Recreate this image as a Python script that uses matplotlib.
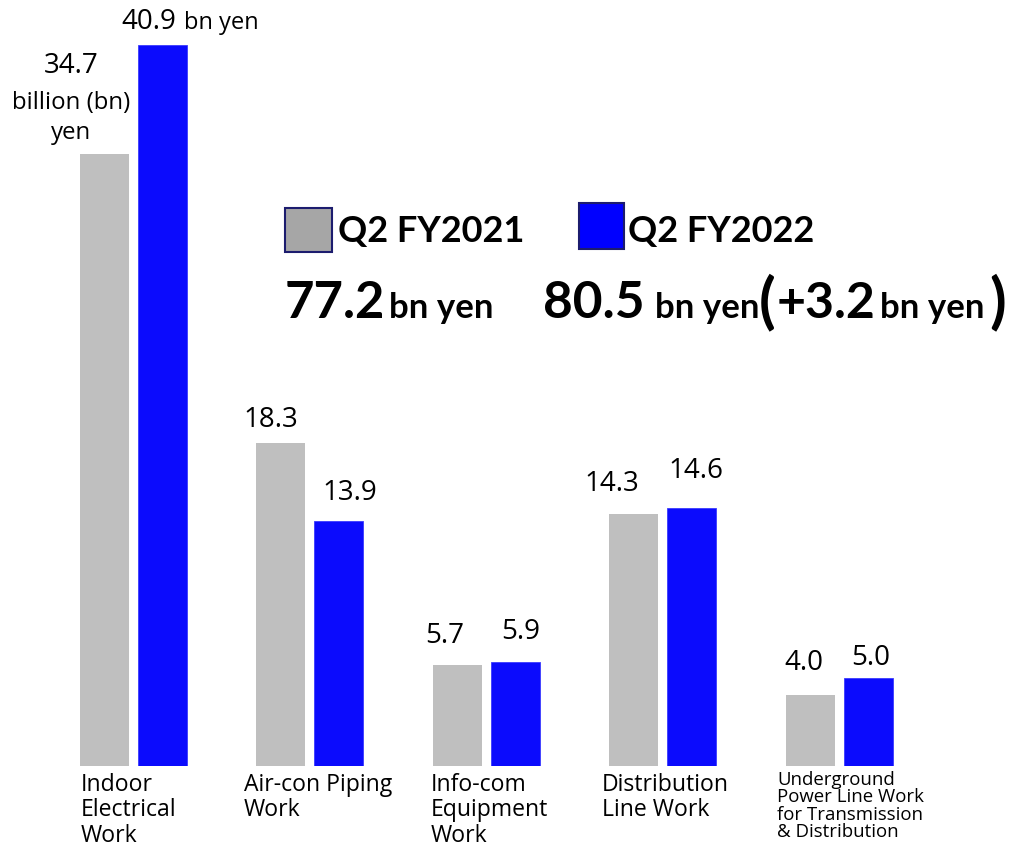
import matplotlib
matplotlib.use("Agg")
import matplotlib.pyplot as plt
from matplotlib.patches import Rectangle
import numpy as np

# ---- data ----
categories = ["Indoor\nElectrical\nWork", "Air-con Piping\nWork", "Info-com\nEquipment\nWork",
              "Distribution\nLine Work", "Underground\nPower Line Work\nfor Transmission\n& Distribution"]
fy2021 = [34.7, 18.3, 5.7, 14.3, 4.0]
fy2022 = [40.9, 13.9, 5.9, 14.6, 5.0]
series_names = ["Q2 FY2021", "Q2 FY2022"]
total_2021 = "77.2"
total_2022 = "80.5"
total_diff = "+3.2"

# ---- style ----
W, H, DPI = 1010, 845, 100
GRAY = "#BFBFBF"
BLUE = "#0B0BFD"
LEG_GRAY = "#A6A6A6"
LEG_BLUE = "#0000FF"
LEG_EDGE = "#1C1C6E"
LBL = "Open Sans"
BOLD = "Lato"

fig = plt.figure(figsize=(W / DPI, H / DPI), dpi=DPI)
fig.patch.set_facecolor("white")

def fx(px):
    return px / W

def fy(py):
    return 1 - py / H

# axes: baseline at 767 px from top
base_px = 767
ax = fig.add_axes([0, fy(base_px), 1, base_px / H])
ax.set_axis_off()
px_per_unit = 17.64
ax.set_ylim(0, base_px / px_per_unit)
spacing = 176.4
ax.set_xlim(-133.5 / spacing, (W - 133.5) / spacing)

x = np.arange(len(categories))
bw = 49 / spacing
off = 29 / spacing
b1 = ax.bar(x - off, fy2021, width=bw, color=GRAY, linewidth=0)
b2 = ax.bar(x + off, fy2022, width=bw, color=BLUE, edgecolor="#3A3AFF", linewidth=0.6)

# value labels (offsets in pixels from bar top-center)
lab_off_2021 = [None, (-10.5, 17), (-12.5, 23), (-21.5, 24), (-6.5, 26)]
lab_off_2022 = [None, (10.5, 22), (5.5, 24), (4.5, 31), (2.5, 14)]
for i in range(len(categories)):
    if lab_off_2021[i] is not None:
        dx, dy = lab_off_2021[i]
        ax.annotate(f"{fy2021[i]:.1f}", xy=(x[i] - off, fy2021[i]), xytext=(dx, dy),
                    textcoords="offset pixels", ha="center", va="baseline",
                    fontsize=20, family=LBL, color="black")
    if lab_off_2022[i] is not None:
        dx, dy = lab_off_2022[i]
        ax.annotate(f"{fy2022[i]:.1f}", xy=(x[i] + off, fy2022[i]), xytext=(dx, dy),
                    textcoords="offset pixels", ha="center", va="baseline",
                    fontsize=20, family=LBL, color="black")

# first group special labels
ax.annotate(f"{fy2021[0]:.1f}", xy=(x[0] - off, fy2021[0]), xytext=(-33.5, 82),
            textcoords="offset pixels", ha="center", va="baseline", fontsize=20, family=LBL)
ax.annotate("billion (bn)", xy=(x[0] - off, fy2021[0]), xytext=(-33.5, 46),
            textcoords="offset pixels", ha="center", va="baseline", fontsize=17.3, family=LBL)
ax.annotate("yen", xy=(x[0] - off, fy2021[0]), xytext=(-33.5, 16),
            textcoords="offset pixels", ha="center", va="baseline", fontsize=17.3, family=LBL)
ax.annotate(f"{fy2022[0]:.1f}", xy=(x[0] + off, fy2022[0]), xytext=(-41, 17),
            textcoords="offset pixels", ha="left", va="baseline", fontsize=20, family=LBL)
ax.annotate("bn yen", xy=(x[0] + off, fy2022[0]), xytext=(22, 17),
            textcoords="offset pixels", ha="left", va="baseline", fontsize=17, family=LBL)

# category labels
cat_left = [81, 244, 431, 602, 777]
for i, c in enumerate(categories):
    if i < 4:
        fig.text(fx(cat_left[i]), fy(773), c, ha="left", va="top", fontsize=16.6,
                 family=LBL, linespacing=1.08)
    else:
        fig.text(fx(cat_left[i]), fy(771), c, ha="left", va="top", fontsize=13.4,
                 family=LBL, linespacing=0.95)

# legend squares
fig.patches.append(Rectangle((fx(285), fy(253)), fx(47), 44 / H, transform=fig.transFigure,
                             facecolor=LEG_GRAY, edgecolor=LEG_EDGE, linewidth=1.5))
fig.patches.append(Rectangle((fx(579), fy(250)), fx(45), 46 / H, transform=fig.transFigure,
                             facecolor=LEG_BLUE, edgecolor=LEG_EDGE, linewidth=1.5))
fig.text(fx(338), fy(242), series_names[0], ha="left", va="baseline", fontsize=26,
         family=BOLD, weight="bold")
fig.text(fx(628), fy(242), series_names[1], ha="left", va="baseline", fontsize=26,
         family=BOLD, weight="bold")

# totals row
row = 318
fig.text(fx(285), fy(row), total_2021, ha="left", va="baseline", fontsize=36.5, family=BOLD, weight="bold")
fig.text(fx(389), fy(row), "bn yen", ha="left", va="baseline", fontsize=25, family=BOLD, weight="bold")
fig.text(fx(543), fy(row), total_2022, ha="left", va="baseline", fontsize=37, family=BOLD, weight="bold")
fig.text(fx(655), fy(row), "bn yen", ha="left", va="baseline", fontsize=25, family=BOLD, weight="bold")
fig.text(fx(759), fy(row + 3), "(", ha="left", va="baseline", fontsize=44, family=BOLD, weight="bold")
fig.text(fx(777), fy(row), total_diff, ha="left", va="baseline", fontsize=36, family=BOLD, weight="bold")
fig.text(fx(880), fy(row), "bn yen", ha="left", va="baseline", fontsize=25, family=BOLD, weight="bold")
fig.text(fx(989), fy(row + 3), ")", ha="left", va="baseline", fontsize=44, family=BOLD, weight="bold")

fig.savefig("out.png", dpi=DPI, facecolor="white")
